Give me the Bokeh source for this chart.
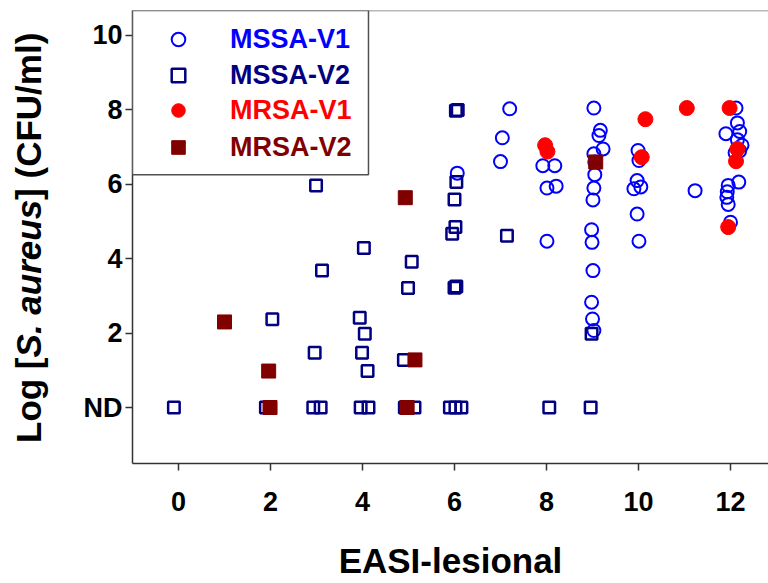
from bokeh.plotting import figure
from bokeh.layouts import row
from bokeh.models import (FixedTicker, Range1d, Legend, LegendItem, BoxAnnotation, Span, Div)
from bokeh.embed import file_html
from bokeh.resources import INLINE

# ---------------- data ----------------
mssa_v1_x = [6.06,
             7.2, 7.04, 7.0,
             7.92, 8.18, 8.01, 8.21, 8.01,
             9.03, 9.17, 9.14, 9.23, 9.03, 9.05, 9.05, 9.03, 9.01, 8.98, 8.99, 9.01, 8.98, 9.0, 9.03,
             9.99, 10.01, 9.97, 10.05, 9.9, 9.97, 10.01,
             11.23,
             12.12, 12.15, 11.9, 12.2, 12.15, 12.25, 12.2, 12.1, 12.18, 11.95, 11.93, 11.92, 11.95, 12.0]
mssa_v1_y = [6.3,
             8.03, 7.25, 6.61,
             6.5, 6.5, 5.9, 5.95, 4.47,
             8.05, 7.45, 7.31, 6.95, 6.82, 6.6, 6.26, 5.9, 5.58, 4.78, 4.44, 3.68, 2.83, 2.38, 2.07,
             6.91, 6.64, 6.1, 5.93, 5.88, 5.2, 4.47,
             5.83,
             8.05, 7.65, 7.36, 7.42, 7.2, 7.05, 6.9, 6.85, 6.06, 5.97, 5.8, 5.65, 5.46, 4.98]

mssa_v2_x = [-0.1, 1.9, 2.93, 3.09, 3.96, 4.13, 4.92, 5.13, 5.9, 6.02, 6.15, 8.06, 8.96,
             2.99, 6.0, 6.02, 5.95, 4.03, 5.07, 3.12, 4.99, 6.0, 6.04, 2.04, 3.94, 4.05,
             2.96, 3.99, 4.11, 4.9, 6.04, 6.03, 6.07, 7.14, 8.98]
mssa_v2_y = [0, 0, 0, 0, 0, 0, 0, 0, 0, 0, 0, 0, 0,
             5.97, 5.59, 4.85, 4.67, 4.29, 3.92, 3.68, 3.21, 3.22, 3.25, 2.37, 2.41, 1.98,
             1.47, 1.47, 0.98, 1.28, 6.06, 7.98, 8.0, 4.62, 1.98]

mrsa_v1_x = [7.97, 8.02, 10.15, 11.05, 11.98, 10.07, 12.15, 12.12, 11.95]
mrsa_v1_y = [7.05, 6.88, 7.75, 8.05, 8.05, 6.73, 6.95, 6.62, 4.85]

mrsa_v2_x = [1.0, 1.96, 1.99, 4.93, 5.14, 4.97, 9.07]
mrsa_v2_y = [2.3, 0.98, 0.0, 5.64, 1.28, 0.0, 6.6]

x_ticks = [0, 2, 4, 6, 8, 10, 12]
y_ticks = [0, 2, 4, 6, 8, 10]
y_tick_labels = {0: "ND"}

series_labels = ["MSSA-V1", "MSSA-V2", "MRSA-V1", "MRSA-V2"]
series_colors = ["#0000FF", "#000080", "#FF0000", "#800000"]

x_title = "EASI-lesional"
y_title_parts = ["Log [", "S. aureus", "] (CFU/ml)"]

# ---------------- figure ----------------
FONT = "Liberation Sans"
Y_TOP = 10.672
TITLE_W = 60
p = figure(width=768 - TITLE_W, height=583, output_backend="svg", toolbar_location=None,
           x_range=Range1d(-1.0, 12.826), y_range=Range1d(-1.505, Y_TOP),
           min_border_left=132 - TITLE_W, min_border_right=0, min_border_top=10,
           min_border_bottom=120)
p.outline_line_color = None
p.grid.visible = False
p.background_fill_color = "white"
p.border_fill_color = "white"

for ax in (p.xaxis[0], p.yaxis[0]):
    ax.axis_line_color = "#333333"
    ax.axis_line_width = 1.5
    ax.major_tick_line_color = "#333333"
    ax.major_tick_line_width = 1.5
    ax.major_tick_in = 0
    ax.major_tick_out = 7
    ax.minor_tick_line_color = None
    ax.major_label_text_font = FONT
    ax.major_label_text_font_style = "bold"
    ax.major_label_text_font_size = "27px"
    ax.major_label_text_color = "black"

p.xaxis.ticker = FixedTicker(ticks=x_ticks)
p.yaxis.ticker = FixedTicker(ticks=y_ticks)
p.yaxis.major_label_overrides = y_tick_labels
p.xaxis.major_label_standoff = 21
p.yaxis.major_label_standoff = 3

p.xaxis.axis_label = x_title
p.xaxis.axis_label_text_font = FONT
p.xaxis.axis_label_text_font_style = "bold"
p.xaxis.axis_label_text_font_size = "35px"
p.xaxis.axis_label_text_color = "black"
p.xaxis.axis_label_standoff = 27

p.add_layout(Span(location=Y_TOP, dimension="width", line_color="#707070", line_width=1.5))

r1 = p.scatter(mssa_v1_x, mssa_v1_y, marker="circle", size=13, fill_color=None,
               line_color=series_colors[0], line_width=2)
r2 = p.scatter(mssa_v2_x, mssa_v2_y, marker="square", size=11.5, fill_color=None,
               line_color=series_colors[1], line_width=2.5)
r3 = p.scatter(mrsa_v1_x, mrsa_v1_y, marker="circle", size=15, fill_color=series_colors[2],
               line_color=series_colors[2], line_width=1)
r4 = p.scatter(mrsa_v2_x, mrsa_v2_y, marker="square", size=14, fill_color=series_colors[3],
               line_color=series_colors[3], line_width=1)

# legend frame
p.add_layout(BoxAnnotation(left=-1.0, right=4.13, bottom=6.26, top=Y_TOP,
                           fill_color="white", fill_alpha=1.0,
                           line_color="#505050", line_alpha=1.0, line_width=1.5))

row_bottoms = [404, 368, 333, 296]
for r, lbl, col, by in zip([r1, r2, r3, r4], series_labels, series_colors, row_bottoms):
    leg = Legend(items=[LegendItem(label=lbl, renderers=[r])], location=(29, by),
                 orientation="vertical", padding=0, margin=0, spacing=0,
                 glyph_width=34, glyph_height=40, label_height=40, label_standoff=35,
                 label_text_color=col, label_text_font=FONT, label_text_font_style="bold",
                 label_text_font_size="27px", background_fill_alpha=0.0,
                 border_line_color=None)
    p.add_layout(leg, "center")

# y-axis title as rotated real text, with the species name in italics
y_html = ('<div style="position:relative;left:11px;top:443px;width:max-content;'
          'white-space:nowrap;transform-origin:0 0;transform:rotate(-90deg);'
          "font-family:'Liberation Sans',Arial,sans-serif;font-weight:bold;"
          'font-size:35px;line-height:35px;color:#000;">'
          f'{y_title_parts[0]}<i>{y_title_parts[1]}</i>{y_title_parts[2]}</div>')
ytitle = Div(text=y_html, width=TITLE_W, height=583, margin=0)

layout = row(ytitle, p, spacing=0)
open("out.html", "w").write(file_html(layout, INLINE))
